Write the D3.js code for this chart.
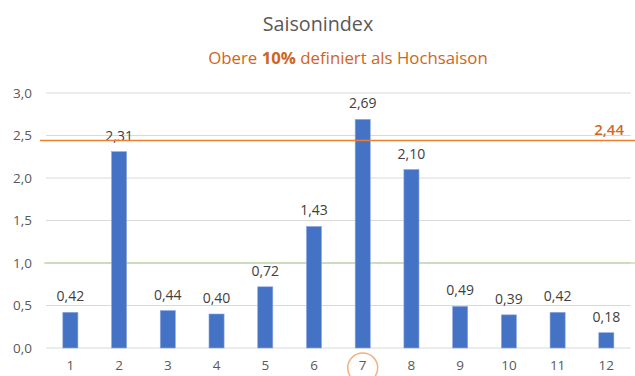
<!DOCTYPE html>
<html>
<head>
<meta charset="utf-8">
<script src="https://cdn.jsdelivr.net/npm/d3@7"></script>
<style>
  html, body { margin: 0; padding: 0; background: #fff; }
  svg { display: block; font-family: "Open Sans", sans-serif; }
</style>
</head>
<body>
<svg id="chart" width="635" height="376"></svg>
<script>
// Monthly season index
const months = ["1", "2", "3", "4", "5", "6", "7", "8", "9", "10", "11", "12"];
const seasonIndex = [0.42, 2.31, 0.44, 0.40, 0.72, 1.43, 2.69, 2.10, 0.49, 0.39, 0.42, 0.18];
const yTicks = [0, 0.5, 1.0, 1.5, 2.0, 2.5, 3.0];
const peakThreshold = 2.44;   // upper 10% boundary
const baseline = 1.0;         // average season level
const highlightMonth = "7";

const fmt = v => d3.format(".2f")(v).replace(".", ",");
const fmtTick = v => d3.format(".1f")(v).replace(".", ",");

const svg = d3.select("#chart");
const W = 635, H = 376;
const margin = { left: 46, right: 4.3, top: 93, bottom: 28 };

const x = d3.scaleBand()
  .domain(months)
  .range([margin.left, W - margin.right])
  .paddingInner(0.69)
  .paddingOuter(0.345);

const y = d3.scaleLinear()
  .domain([0, 3])
  .range([H - margin.bottom, margin.top]);

// Titles
svg.append("text")
  .attr("x", 318).attr("y", 31)
  .attr("text-anchor", "middle")
  .attr("font-size", 19.7)
  .attr("fill", "#595959")
  .text("Saisonindex");

const sub = svg.append("text")
  .attr("x", 348).attr("y", 64)
  .attr("text-anchor", "middle")
  .attr("font-size", 16.8)
  .attr("fill", "#CF6520");
sub.append("tspan").text("Obere ");
sub.append("tspan").attr("font-weight", "bold").text("10%");
sub.append("tspan").text(" definiert als Hochsaison");

// Gridlines
svg.append("g")
  .selectAll("line")
  .data(yTicks)
  .join("line")
  .attr("x1", margin.left).attr("x2", W - margin.right)
  .attr("y1", d => y(d)).attr("y2", d => y(d))
  .attr("stroke", "#D9D9D9")
  .attr("stroke-width", 1);

// Y axis labels
const yAxis = d3.axisLeft(y).tickValues(yTicks).tickFormat(fmtTick).tickSize(0).tickPadding(14);
const gy = svg.append("g").attr("transform", `translate(${margin.left},0)`).call(yAxis);
gy.select(".domain").remove();
gy.selectAll("text").attr("font-size", 13.5).attr("fill", "#595959").attr("font-family", "'Open Sans', sans-serif");

// X axis labels
const xAxis = d3.axisBottom(x).tickSize(0).tickPadding(12);
const gx = svg.append("g").attr("transform", `translate(0,${y(0)})`).call(xAxis);
gx.select(".domain").remove();
gx.selectAll("text").attr("font-size", 13.5).attr("fill", "#595959").attr("font-family", "'Open Sans', sans-serif");

// Baseline at 1.0
svg.append("line")
  .attr("x1", 44).attr("x2", W)
  .attr("y1", y(baseline)).attr("y2", y(baseline))
  .attr("stroke", "#A9D18E").attr("stroke-width", 1);

// Bars
svg.append("g")
  .selectAll("rect")
  .data(seasonIndex)
  .join("rect")
  .attr("x", (d, i) => x(months[i]))
  .attr("width", x.bandwidth())
  .attr("y", d => y(d))
  .attr("height", d => y(0) - y(d))
  .attr("fill", "#4472C4")
  .attr("stroke", "#8FAADC")
  .attr("stroke-width", 0.6);

// Value labels
svg.append("g")
  .selectAll("text")
  .data(seasonIndex)
  .join("text")
  .attr("x", (d, i) => x(months[i]) + x.bandwidth() / 2)
  .attr("y", d => y(d) - 11)
  .attr("text-anchor", "middle")
  .attr("font-size", 14)
  .attr("fill", "#404040")
  .text(fmt);

// Peak season threshold
svg.append("line")
  .attr("x1", 40).attr("x2", W)
  .attr("y1", y(peakThreshold)).attr("y2", y(peakThreshold))
  .attr("stroke", "#ED7D31").attr("stroke-width", 1.5);

svg.append("text")
  .attr("x", 624).attr("y", y(peakThreshold) - 6)
  .attr("text-anchor", "end")
  .attr("font-size", 15)
  .attr("font-weight", 600)
  .attr("fill", "#D0691F")
  .text(fmt(peakThreshold));

// Highlight of the peak month
svg.append("circle")
  .attr("cx", x(highlightMonth) + x.bandwidth() / 2)
  .attr("cy", y(0) + 20)
  .attr("r", 15)
  .attr("fill", "none")
  .attr("stroke", "#F4B183")
  .attr("stroke-width", 1.5);
</script>
</body>
</html>
